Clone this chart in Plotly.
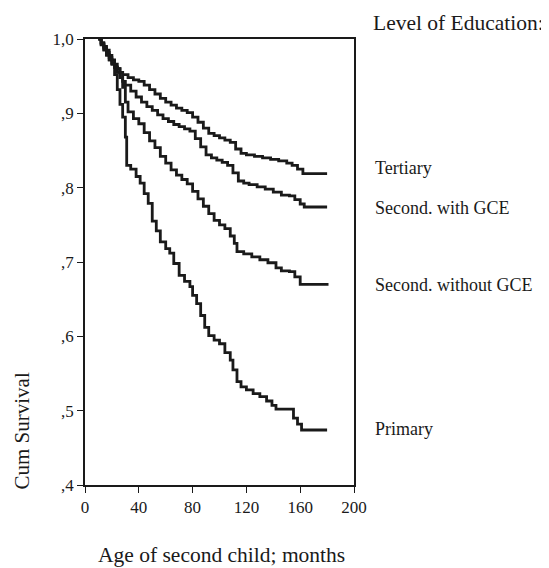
import plotly.graph_objects as go

tert_m = [10, 12, 14, 16, 18, 20, 22, 24, 26, 28, 32, 36, 40, 44, 48, 52, 56, 60, 64, 68, 72, 76, 80, 84, 88, 92, 96, 100, 104, 108, 112, 116, 120, 126, 132, 138, 144, 150, 154, 158, 162, 180]
tert_s = [1.0, 0.995, 0.99, 0.985, 0.978, 0.972, 0.966, 0.96, 0.955, 0.952, 0.948, 0.945, 0.943, 0.938, 0.932, 0.926, 0.92, 0.915, 0.911, 0.907, 0.904, 0.901, 0.895, 0.888, 0.880, 0.873, 0.870, 0.867, 0.864, 0.861, 0.852, 0.846, 0.844, 0.842, 0.840, 0.838, 0.836, 0.833, 0.830, 0.825, 0.819, 0.819]

gce_m = [10, 12, 14, 16, 18, 20, 22, 24, 26, 28, 30, 34, 38, 42, 46, 50, 54, 58, 62, 66, 70, 74, 78, 82, 86, 90, 94, 98, 102, 106, 110, 114, 118, 122, 128, 134, 140, 146, 152, 156, 160, 163, 180]
gce_s = [1.0, 0.994, 0.988, 0.982, 0.975, 0.968, 0.962, 0.955, 0.948, 0.943, 0.938, 0.930, 0.922, 0.915, 0.909, 0.904, 0.898, 0.893, 0.889, 0.885, 0.882, 0.879, 0.876, 0.866, 0.855, 0.844, 0.840, 0.837, 0.834, 0.830, 0.820, 0.809, 0.806, 0.804, 0.801, 0.798, 0.794, 0.790, 0.789, 0.784, 0.778, 0.774, 0.774]

nogce_m = [10, 12, 14, 16, 18, 20, 22, 24, 26, 28, 30, 32, 36, 40, 44, 48, 52, 56, 60, 64, 68, 72, 76, 80, 84, 88, 92, 96, 100, 104, 108, 111, 113, 118, 124, 130, 136, 142, 146, 152, 156, 160, 180]
nogce_s = [1.0, 0.993, 0.986, 0.979, 0.972, 0.966, 0.962, 0.960, 0.955, 0.935, 0.915, 0.902, 0.893, 0.886, 0.874, 0.863, 0.854, 0.842, 0.833, 0.824, 0.817, 0.811, 0.805, 0.795, 0.785, 0.775, 0.765, 0.756, 0.750, 0.745, 0.735, 0.725, 0.714, 0.711, 0.707, 0.703, 0.699, 0.692, 0.688, 0.687, 0.680, 0.670, 0.668]

prim_m = [10, 12, 14, 16, 18, 20, 22, 24, 26, 28, 30, 31, 34, 38, 41, 44, 47, 50, 53, 56, 60, 63, 66, 70, 74, 78, 80, 83, 86, 89, 92, 96, 100, 104, 108, 110, 113, 116, 120, 125, 130, 135, 139, 142, 152, 155, 158, 161, 180]
prim_s = [1.0, 0.992, 0.985, 0.978, 0.972, 0.967, 0.952, 0.932, 0.912, 0.895, 0.868, 0.83, 0.825, 0.815, 0.806, 0.792, 0.779, 0.755, 0.742, 0.727, 0.718, 0.712, 0.698, 0.682, 0.674, 0.667, 0.655, 0.644, 0.628, 0.612, 0.601, 0.595, 0.590, 0.578, 0.568, 0.555, 0.539, 0.532, 0.528, 0.523, 0.519, 0.513, 0.507, 0.502, 0.502, 0.490, 0.482, 0.474, 0.474]

series = [
    ("Tertiary", tert_m, tert_s, 0.826),
    ("Second. with GCE", gce_m, gce_s, 0.773),
    ("Second. without GCE", nogce_m, nogce_s, 0.669),
    ("Primary", prim_m, prim_s, 0.475),
]

y_ticks = [1.0, 0.9, 0.8, 0.7, 0.6, 0.5, 0.4]
y_labels = ["1,0", ",9", ",8", ",7", ",6", ",5", ",4"]
x_ticks = [0, 40, 80, 120, 160, 200]

FONT = "Liberation Serif"
INK = "#1a1a1a"

fig = go.Figure()
annotations = []
for name, m, s, ly in series:
    fig.add_trace(go.Scatter(x=m, y=s, mode="lines", line_shape="hv",
                             line=dict(color=INK, width=2.8), name=name,
                             showlegend=False))
    annotations.append(dict(text=name, xref="paper", yref="y", x=1.071, y=ly,
                            xanchor="left", yanchor="middle", showarrow=False,
                            font=dict(family=FONT, size=18, color=INK)))

annotations.append(dict(text="Level of Education:", xref="paper", yref="paper",
                        x=1.063, y=1.036, xanchor="left", yanchor="middle",
                        showarrow=False, font=dict(family=FONT, size=21.5, color=INK)))
annotations.append(dict(text="Cum Survival", xref="paper", yref="y",
                        x=-0.234, y=0.472, xanchor="center", yanchor="middle",
                        textangle=-90, showarrow=False,
                        font=dict(family=FONT, size=21, color=INK)))
annotations.append(dict(text="Age of second child; months", xref="paper", yref="paper",
                        x=0.509, y=-0.157, xanchor="center", yanchor="middle",
                        showarrow=False, font=dict(family=FONT, size=21.5, color=INK)))

fig.update_layout(
    width=541, height=560,
    margin=dict(l=77, r=195, t=31, b=83),
    paper_bgcolor="white", plot_bgcolor="white",
    font=dict(family=FONT, color=INK, size=17),
    annotations=annotations,
    xaxis=dict(range=[0, 200], tickvals=x_ticks, ticks="outside", ticklen=6,
               tickcolor=INK, showgrid=False, zeroline=False, showline=True,
               linecolor=INK, linewidth=1.5, mirror=True,
               tickfont=dict(family=FONT, size=17, color=INK)),
    yaxis=dict(range=[0.4, 1.0], tickvals=y_ticks, ticktext=y_labels,
               ticks="outside", ticklen=6, tickcolor=INK, showgrid=False,
               zeroline=False, showline=True, linecolor=INK, linewidth=1.5,
               mirror=True, tickfont=dict(family=FONT, size=17, color=INK)),
)

fig.write_html("out.html")
